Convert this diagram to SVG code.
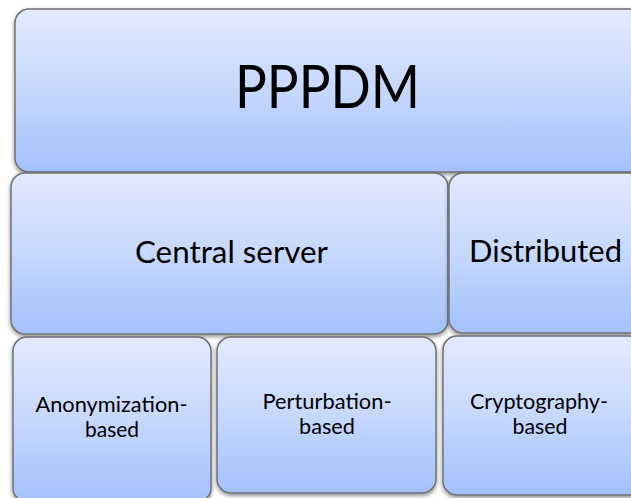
<svg xmlns="http://www.w3.org/2000/svg" width="631" height="498" viewBox="0 0 631 498">
  <defs>
    <linearGradient id="fillBlue" x1="0" y1="0" x2="0" y2="1">
      <stop offset="0" stop-color="#e2eafd"/>
      <stop offset="0.5" stop-color="#c6d8fd"/>
      <stop offset="1" stop-color="#a3c1fb"/>
    </linearGradient>
    <filter id="shadow" x="-10%" y="-10%" width="120%" height="125%">
      <feGaussianBlur in="SourceAlpha" stdDeviation="2"/>
      <feOffset dx="0" dy="2" result="blur"/>
      <feComponentTransfer><feFuncA type="linear" slope="0.45"/></feComponentTransfer>
      <feMerge><feMergeNode/><feMergeNode in="SourceGraphic"/></feMerge>
    </filter>
  </defs>
  <style>
    .box { fill: url(#fillBlue); stroke: #6f7277; stroke-width: 1.5; filter: url(#shadow); }
    .lbl { font-family: Lato, "Liberation Sans", sans-serif; fill: #000; text-anchor: middle; }
    .big { font-size: 60px; }
    .mid { font-size: 30px; }
    .small { font-size: 22px; }
  </style>
  <rect width="631" height="498" fill="#ffffff"/>

  <g id="pppdm">
    <rect class="box" x="15" y="9" width="630" height="163" rx="14"/>
    <text class="lbl big" x="327.5" y="108" textLength="185" lengthAdjust="spacingAndGlyphs">PPPDM</text>
  </g>

  <g id="central-server">
    <rect class="box" x="11" y="173" width="437" height="161" rx="14"/>
    <text class="lbl mid" x="231.5" y="263" textLength="193" lengthAdjust="spacingAndGlyphs">Central server</text>
  </g>

  <g id="distributed">
    <rect class="box" x="449" y="173" width="196" height="160" rx="14"/>
    <text class="lbl mid" x="545.5" y="262" textLength="153" lengthAdjust="spacingAndGlyphs">Distributed</text>
  </g>

  <g id="anonymization">
    <rect class="box" x="13" y="337" width="198" height="165" rx="14"/>
    <text class="lbl small" x="111.5" y="412" textLength="152" lengthAdjust="spacingAndGlyphs">Anonymization-</text>
    <text class="lbl small" x="112" y="437" textLength="54" lengthAdjust="spacingAndGlyphs">based</text>
  </g>

  <g id="perturbation">
    <rect class="box" x="217" y="337" width="219" height="156" rx="14"/>
    <text class="lbl small" x="327" y="409" textLength="129" lengthAdjust="spacingAndGlyphs">Perturbation-</text>
    <text class="lbl small" x="327" y="434" textLength="56" lengthAdjust="spacingAndGlyphs">based</text>
  </g>

  <g id="cryptography">
    <rect class="box" x="443" y="336" width="200" height="159" rx="14"/>
    <text class="lbl small" x="539" y="409" textLength="138" lengthAdjust="spacingAndGlyphs">Cryptography-</text>
    <text class="lbl small" x="540" y="434" textLength="55" lengthAdjust="spacingAndGlyphs">based</text>
  </g>
</svg>
